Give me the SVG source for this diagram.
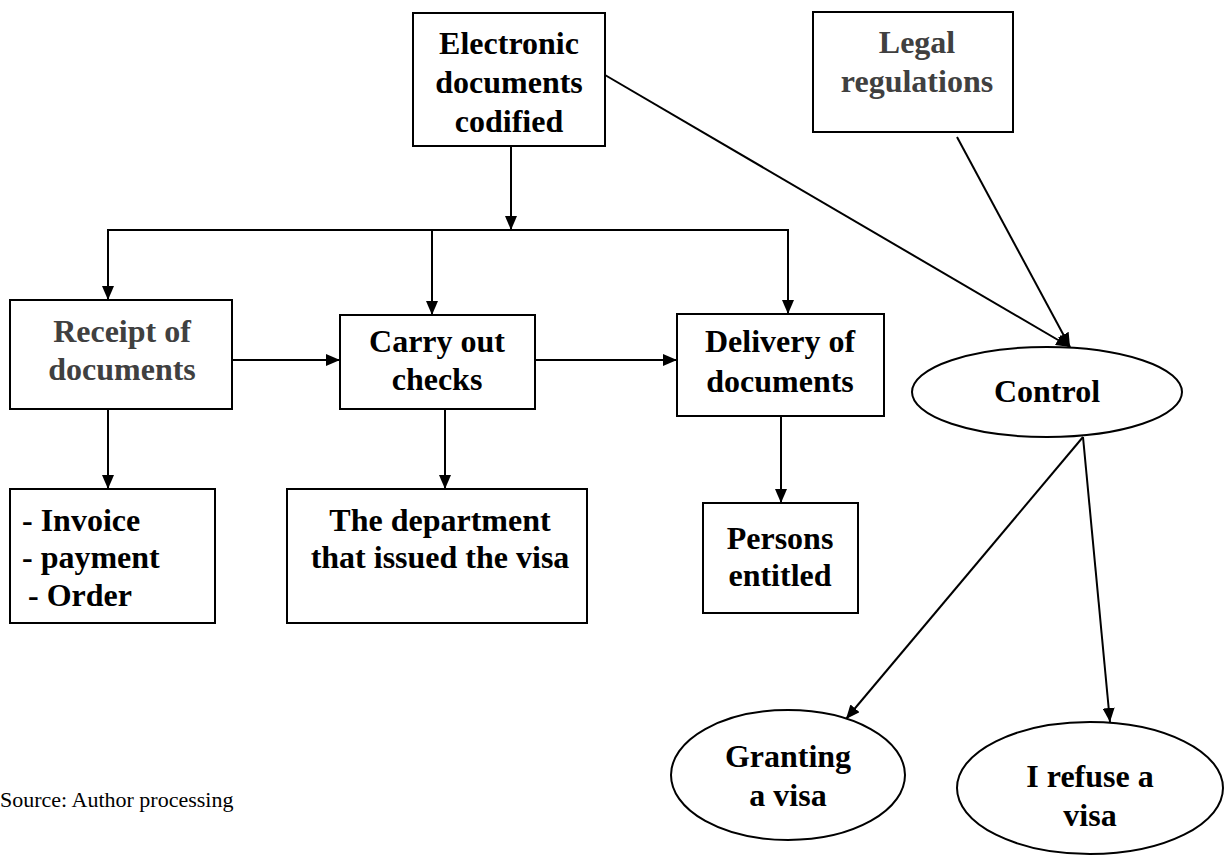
<svg xmlns="http://www.w3.org/2000/svg" width="1225" height="858" viewBox="0 0 1225 858">
<defs>
<marker id="arr" markerUnits="userSpaceOnUse" markerWidth="14" markerHeight="12" refX="14" refY="6" orient="auto">
<path d="M0,0 L14,6 L0,12 Z" fill="#000"/>
</marker>
<style>
.box{fill:#fff;stroke:#000;stroke-width:2}
.t{font-family:"Liberation Serif","Times New Roman",serif;font-weight:bold;font-size:32px;fill:#000;text-anchor:middle}
.g{fill:#404040}
.l{text-anchor:start}
.c{stroke:#000;stroke-width:2;fill:none}
.src{font-family:"Liberation Serif","Times New Roman",serif;font-size:22px;fill:#000}
</style>
</defs>
<rect width="1225" height="858" fill="#fff"/>
<g id="connectors">
<line class="c" x1="511" y1="146" x2="511" y2="230" marker-end="url(#arr)"/>
<line class="c" x1="107" y1="230" x2="789" y2="230"/>
<line class="c" x1="108" y1="230" x2="108" y2="300" marker-end="url(#arr)"/>
<line class="c" x1="432" y1="230" x2="432" y2="315" marker-end="url(#arr)"/>
<line class="c" x1="788" y1="230" x2="788" y2="314" marker-end="url(#arr)"/>
<line class="c" x1="232" y1="360" x2="340" y2="360" marker-end="url(#arr)"/>
<line class="c" x1="535" y1="360" x2="677" y2="360" marker-end="url(#arr)"/>
<line class="c" x1="108" y1="409" x2="108" y2="489" marker-end="url(#arr)"/>
<line class="c" x1="445" y1="409" x2="445" y2="489" marker-end="url(#arr)"/>
<line class="c" x1="781" y1="416" x2="781" y2="503" marker-end="url(#arr)"/>
<line class="c" x1="605" y1="75" x2="1070" y2="347" marker-end="url(#arr)"/>
<line class="c" x1="957" y1="137" x2="1070" y2="347" marker-end="url(#arr)"/>
<line class="c" x1="1083" y1="437" x2="846" y2="719" marker-end="url(#arr)"/>
<line class="c" x1="1083" y1="437" x2="1110" y2="722" marker-end="url(#arr)"/>
</g>
<g id="electronic">
<rect class="box" x="413" y="13" width="192" height="133"/>
<text class="t" x="509" y="54">Electronic</text>
<text class="t" x="509" y="93">documents</text>
<text class="t" x="509" y="132">codified</text>
</g>
<g id="legal">
<rect class="box" x="813" y="12" width="200" height="120"/>
<text class="t g" x="917" y="53">Legal</text>
<text class="t g" x="917" y="92">regulations</text>
</g>
<g id="receipt">
<rect class="box" x="10" y="300" width="222" height="109"/>
<text class="t g" x="122" y="342">Receipt of</text>
<text class="t g" x="122" y="380">documents</text>
</g>
<g id="carry">
<rect class="box" x="340" y="315" width="195" height="94"/>
<text class="t" x="437" y="352">Carry out</text>
<text class="t" x="437" y="390">checks</text>
</g>
<g id="delivery">
<rect class="box" x="677" y="314" width="207" height="102"/>
<text class="t" x="780" y="352">Delivery of</text>
<text class="t" x="780" y="392">documents</text>
</g>
<g id="control">
<ellipse class="box" cx="1047" cy="392" rx="135" ry="45"/>
<text class="t" x="1047" y="402">Control</text>
</g>
<g id="invoice">
<rect class="box" x="10" y="489" width="205" height="134"/>
<text class="t l" x="22" y="531">- Invoice</text>
<text class="t l" x="22" y="568">- payment</text>
<text class="t l" x="28" y="606">- Order</text>
</g>
<g id="department">
<rect class="box" x="287" y="489" width="300" height="134"/>
<text class="t" x="440" y="531">The department</text>
<text class="t" x="440" y="568">that issued the visa</text>
</g>
<g id="persons">
<rect class="box" x="703" y="503" width="155" height="110"/>
<text class="t" x="780" y="549">Persons</text>
<text class="t" x="780" y="586">entitled</text>
</g>
<g id="granting">
<ellipse class="box" cx="788" cy="775" rx="117" ry="65"/>
<text class="t" x="788" y="767">Granting</text>
<text class="t" x="788" y="806">a visa</text>
</g>
<g id="refuse">
<ellipse class="box" cx="1090" cy="788" rx="133" ry="66"/>
<text class="t" x="1090" y="787">I refuse a</text>
<text class="t" x="1090" y="826">visa</text>
</g>
<text class="src" x="0" y="807">Source: Author processing</text>
</svg>
